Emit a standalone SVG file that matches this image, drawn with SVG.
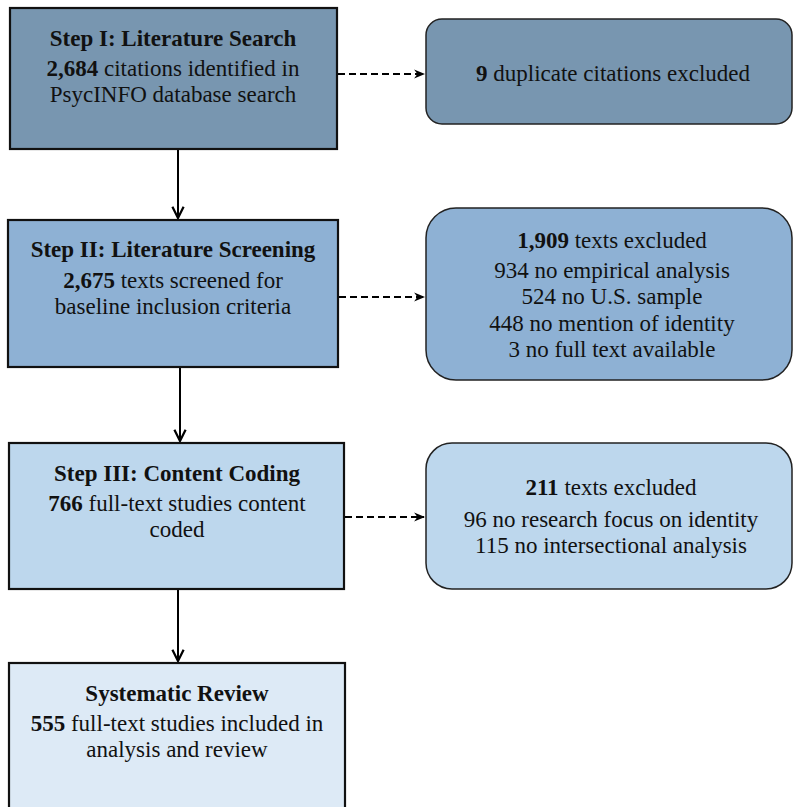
<svg xmlns="http://www.w3.org/2000/svg" width="793" height="807" viewBox="0 0 793 807">
<style>
text{font-family:'Liberation Serif','Times New Roman',serif;font-size:23px;fill:#111;text-anchor:middle}
.b{font-weight:bold}
.sq{stroke:#111;stroke-width:2.2}
.rd{stroke:#222;stroke-width:1.5}
.c1{fill:#7896b0}.c2{fill:#8eb1d4}.c3{fill:#bdd7ed}.c4{fill:#ddeaf6}
.solid{stroke:#000;stroke-width:2;fill:none}
.dash{stroke:#000;stroke-width:2;fill:none;stroke-dasharray:7 4}
</style>
<defs>
<marker id="ah" viewBox="0 0 10 10" refX="9" refY="5" markerWidth="11" markerHeight="11" orient="auto" markerUnits="userSpaceOnUse">
<path d="M0,1 L10,5 L0,9 L3,5 Z" fill="#000"/>
</marker>
<marker id="ah2" viewBox="0 0 10 10" refX="9" refY="5" markerWidth="14" markerHeight="14" orient="auto" markerUnits="userSpaceOnUse">
<path d="M1,1 L9,5 L1,9" fill="none" stroke="#000" stroke-width="1.6"/>
</marker>
</defs>
<g id="connectors">
<path class="solid" d="M178,149 V218" marker-end="url(#ah2)"/>
<path class="solid" d="M180,367 V441" marker-end="url(#ah2)"/>
<path class="solid" d="M178,589 V661" marker-end="url(#ah2)"/>
<path class="dash" d="M338,74 H424" marker-end="url(#ah)"/>
<path class="dash" d="M339,297 H424" marker-end="url(#ah)"/>
<path class="dash" d="M345,517 H424" marker-end="url(#ah)"/>
</g>
<g id="step1">
<rect class="sq c1" x="10" y="8" width="327" height="141"/>
<text x="173" y="46" class="b">Step I: Literature Search</text>
<text x="173" y="76"><tspan class="b">2,684</tspan> citations identified in</text>
<text x="173" y="102">PsycINFO database search</text>
</g>
<g id="dup">
<rect class="rd c1" x="426" y="19" width="366" height="105" rx="16"/>
<text x="613" y="81"><tspan class="b">9</tspan> duplicate citations excluded</text>
</g>
<g id="step2">
<rect class="sq c2" x="8" y="220" width="330" height="147"/>
<text x="173" y="257" class="b">Step II: Literature Screening</text>
<text x="173" y="288"><tspan class="b">2,675</tspan> texts screened for</text>
<text x="173" y="314">baseline inclusion criteria</text>
</g>
<g id="excl2">
<rect class="rd c2" x="426" y="208" width="366" height="172" rx="30"/>
<text x="612" y="248"><tspan class="b">1,909</tspan> texts excluded</text>
<text x="612" y="278">934 no empirical analysis</text>
<text x="612" y="304">524 no U.S. sample</text>
<text x="612" y="331">448 no mention of identity</text>
<text x="612" y="357">3 no full text available</text>
</g>
<g id="step3">
<rect class="sq c3" x="9" y="443" width="335" height="146"/>
<text x="177" y="481" class="b">Step III: Content Coding</text>
<text x="177" y="511"><tspan class="b">766</tspan> full-text studies content</text>
<text x="177" y="537">coded</text>
</g>
<g id="excl3">
<rect class="rd c3" x="426" y="443" width="366" height="146" rx="26"/>
<text x="611" y="495"><tspan class="b">211</tspan> texts excluded</text>
<text x="611" y="527">96 no research focus on identity</text>
<text x="611" y="553">115 no intersectional analysis</text>
</g>
<g id="review">
<rect class="sq c4" x="9" y="663" width="336" height="160"/>
<text x="177" y="701" class="b">Systematic Review</text>
<text x="177" y="731"><tspan class="b">555</tspan> full-text studies included in</text>
<text x="177" y="757">analysis and review</text>
</g>
</svg>
